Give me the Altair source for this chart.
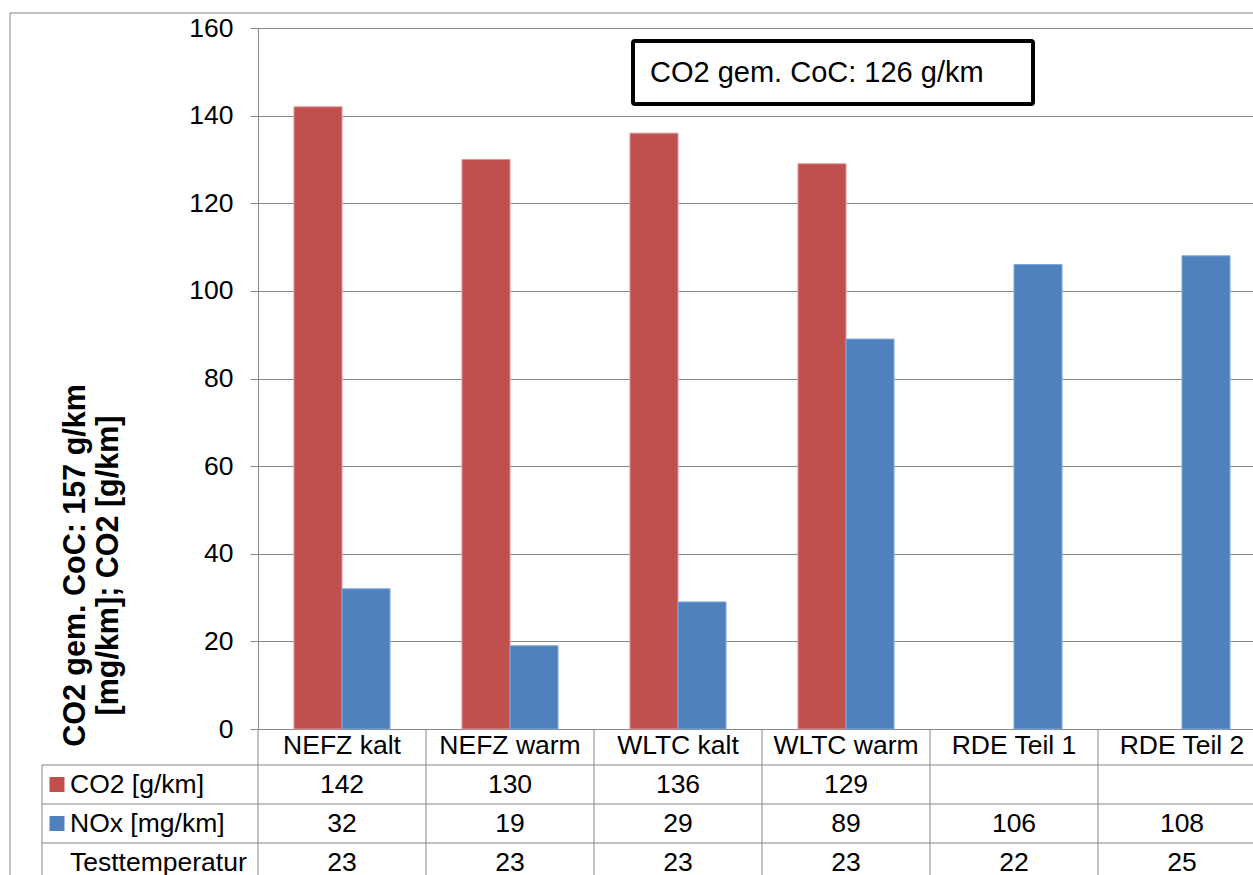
import altair as alt
import pandas as pd

# ---- data ----
categories = ["NEFZ kalt", "NEFZ warm", "WLTC kalt", "WLTC warm", "RDE Teil 1", "RDE Teil 2"]
co2_values = [142, 130, 136, 129, None, None]
nox_values = [32, 19, 29, 89, 106, 108]
temp_values = [23, 23, 23, 23, 22, 25]
series_names = ["CO2 [g/km]", "NOx [mg/km]"]
row_names = ["CO2 [g/km]", "NOx [mg/km]", "Testtemperatur"]
bar_colors = ["#C0504D", "#4F81BD"]
bar_edges = ["#D99795", "#7DA7DC"]
y_title = ["CO2 gem. CoC: 157 g/km", "[mg/km]; CO2 [g/km]"]
annotation = "CO2 gem. CoC: 126 g/km"
y_ticks = [0, 20, 40, 60, 80, 100, 120, 140, 160]

# ---- tables ----
bar_rows = []
for c, v1, v2 in zip(categories, co2_values, nox_values):
    if v1 is not None:
        bar_rows.append({"cat": c, "series": series_names[0], "value": v1})
    if v2 is not None:
        bar_rows.append({"cat": c, "series": series_names[1], "value": v2})
df_bars = pd.DataFrame(bar_rows)

tab_rows = []
for i, c in enumerate(categories):
    for r, vals in zip(row_names, [co2_values, nox_values, temp_values]):
        v = vals[i]
        tab_rows.append({"cat": c, "row": r, "label": "" if v is None else str(v)})
df_tab = pd.DataFrame(tab_rows)
df_rows = pd.DataFrame({"row": row_names})
df_keys = pd.DataFrame({"row": series_names, "series": series_names})
df_cats = pd.DataFrame({"cat": categories})
df_note = pd.DataFrame({"t": [annotation]})

W, H = 995, 701
XR = 1008  # full width of the six category columns (last one runs past the window)
FONT = "Liberation Sans"
GRAY = "#868686"
FS = 26.5

x_scale = alt.Scale(paddingInner=0, paddingOuter=0, range=[0, XR])
x_axis = alt.Axis(title=None, labelAngle=0, ticks=False, labelPadding=3,
                  labelFontSize=FS, labelColor="black", labelFont=FONT,
                  labelOverlap=False, labelBound=False, labelFlush=False,
                  domainColor=GRAY, grid=False)
row_scale = alt.Scale(domain=row_names, range=[737, 854], paddingInner=0, paddingOuter=0)

bars = alt.Chart(df_bars).mark_bar(strokeWidth=1).encode(
    x=alt.X("cat:N", sort=categories, scale=x_scale, axis=x_axis),
    xOffset=alt.XOffset("series:N", sort=series_names,
                        scale=alt.Scale(domain=series_names, paddingInner=0, paddingOuter=0.75)),
    y=alt.Y("value:Q", scale=alt.Scale(domain=[0, 160], nice=False),
            axis=alt.Axis(values=y_ticks, grid=True, gridColor=GRAY, domainColor=GRAY,
                          tickColor=GRAY, tickSize=8, labelPadding=17, labelFontSize=FS,
                          labelColor="black", labelFont=FONT,
                          title=y_title, titleFontSize=30.5, titleFontWeight="bold",
                          titleColor="black", titleFont=FONT, titleAngle=270,
                          titleX=-183, titleY=537, titleAlign="center",
                          titleBaseline="middle", titleLineHeight=33)),
    color=alt.Color("series:N", scale=alt.Scale(domain=series_names, range=bar_colors), legend=None),
    stroke=alt.Stroke("series:N", scale=alt.Scale(domain=series_names, range=bar_edges), legend=None),
)

# vertical table lines at category starts
vlines = alt.Chart(df_cats).mark_rule(color=GRAY, strokeWidth=1).encode(
    x=alt.X("cat:N", sort=categories, bandPosition=0, scale=x_scale, axis=x_axis),
    y=alt.value(H), y2=alt.value(880),
)

# horizontal table lines at row starts
hlines = alt.Chart(df_rows).mark_rule(color=GRAY, strokeWidth=1).encode(
    y=alt.Y("row:N", sort=row_names, bandPosition=0, scale=row_scale, axis=None),
    x=alt.value(-216), x2=alt.value(XR),
)

# table left border
lborder = alt.Chart(df_note).mark_rule(color=GRAY, strokeWidth=1).encode(
    x=alt.value(-216), y=alt.value(737), y2=alt.value(880),
)

# table values
tvals = alt.Chart(df_tab).mark_text(fontSize=FS, font=FONT, color="black", baseline="middle").encode(
    x=alt.X("cat:N", sort=categories, scale=x_scale, axis=x_axis),
    y=alt.Y("row:N", sort=row_names, scale=row_scale, axis=None),
    text="label:N",
)

# row labels
rlabels = alt.Chart(df_rows).mark_text(fontSize=FS, font=FONT, color="black", align="left",
                                       baseline="middle").encode(
    x=alt.value(-188),
    y=alt.Y("row:N", sort=row_names, scale=row_scale, axis=None),
    text="row:N",
)

# legend keys
keys = alt.Chart(df_keys).mark_point(shape="square", filled=True, size=225, opacity=1).encode(
    x=alt.value(-201),
    y=alt.Y("row:N", sort=row_names, scale=row_scale, axis=None),
    color=alt.Color("series:N", scale=alt.Scale(domain=series_names, range=bar_colors), legend=None),
)

# annotation box
box = alt.Chart(df_note).mark_rect(fill="white", stroke="black", strokeWidth=4, cornerRadius=2).encode(
    x=alt.value(375), x2=alt.value(775), y=alt.value(13), y2=alt.value(76),
)
note = alt.Chart(df_note).mark_text(fontSize=29, font=FONT, color="black", align="left",
                                    baseline="middle").encode(
    x=alt.value(392), y=alt.value(45), text="t:N",
)

# outer chart border (left and top)
btop = alt.Chart(df_note).mark_rule(color=GRAY, strokeWidth=1).encode(
    x=alt.value(-248), x2=alt.value(1100), y=alt.value(-15),
)
bleft = alt.Chart(df_note).mark_rule(color=GRAY, strokeWidth=1).encode(
    x=alt.value(-248), y=alt.value(-15), y2=alt.value(900),
)

chart = alt.layer(
    btop, bleft, bars, vlines, hlines, lborder, tvals, rlabels, keys, box, note
).resolve_scale(y="independent").properties(
    width=W, height=H,
    autosize=alt.AutoSizeParams(type="none"),
    padding={"left": 258, "top": 28, "right": 0, "bottom": 146},
).configure_view(stroke="transparent").configure(font=FONT)

chart.save("out.html", embed_options={"renderer": "svg", "actions": False})
